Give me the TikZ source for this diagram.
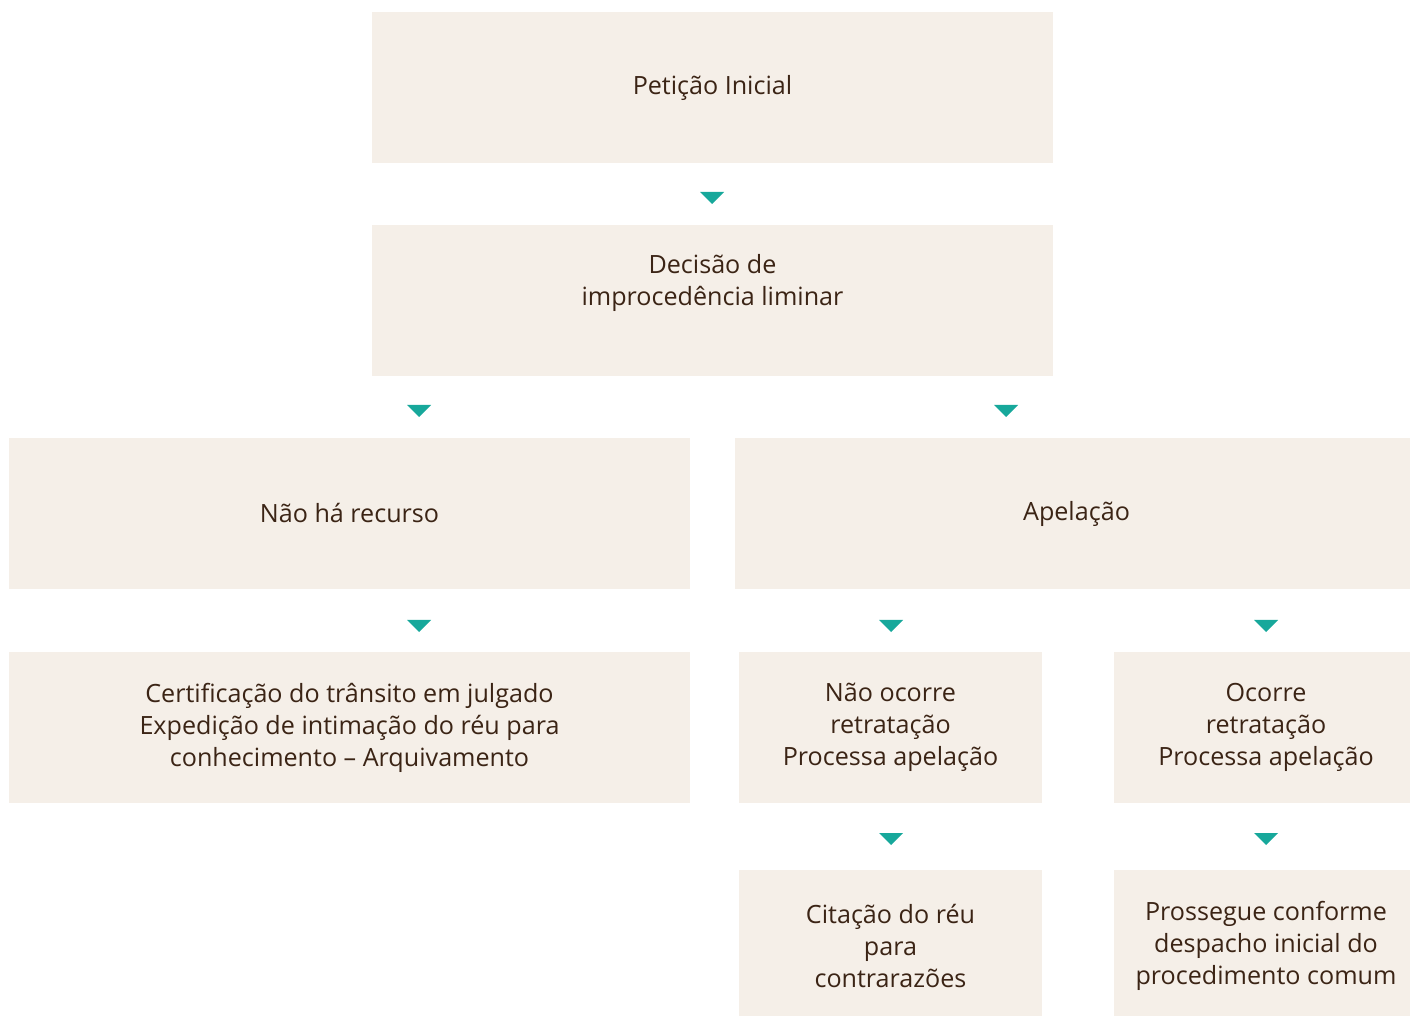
\documentclass[tikz,border=0pt]{standalone}
\usepackage{fontspec}
\setmainfont{Open Sans}
\usepackage{tikz}
\usetikzlibrary{positioning, calc}
\definecolor{boxfill}{HTML}{F5EFE8}
\definecolor{boxtext}{HTML}{3B2415}
\definecolor{tipfill}{HTML}{17A89B}

\tikzset{
    stepbox/.style={fill=boxfill, text=boxtext, align=center, inner sep=0pt,
        font=\fontsize{14.3}{18.2}\selectfont},
    tip/.style={fill=tipfill}
}

\begin{document}
\begin{tikzpicture}[x=0.02cm,y=-0.02cm]
    \useasboundingbox (0,0) rectangle (1410,1016);

    % boxes
    \node[stepbox, minimum width=681*0.02cm, minimum height=151*0.02cm] (P) at (712.5,87.5) {Petição Inicial};
    \node[stepbox, minimum width=681*0.02cm, minimum height=151*0.02cm] (D) at (712.5,300.5) {Decisão de\\improcedência liminar\\ \strut};
    \node[stepbox, minimum width=681*0.02cm, minimum height=151*0.02cm] (N) at (349.5,513.5) {Não há recurso};
    \node[stepbox, minimum width=683*0.02cm, minimum height=151*0.02cm] (A) at (1076.5,513.5) {Apelação};
    \node[stepbox, minimum width=681*0.02cm, minimum height=151*0.02cm] (C) at (349.5,727.5) {Certificação do trânsito em julgado\\Expedição de intimação do réu para\\conhecimento -- Arquivamento};
    \node[stepbox, minimum width=303*0.02cm, minimum height=151*0.02cm] (NR) at (890.5,727.5) {Não ocorre\\retratação\\Processa apelação};
    \node[stepbox, minimum width=304*0.02cm, minimum height=151*0.02cm] (R) at (1266,727.5) {Ocorre\\retratação\\Processa apelação};
    \node[stepbox, minimum width=303*0.02cm, minimum height=152*0.02cm] (CR) at (890.5,946) {Citação do réu\\para\\contrarazões};
    \node[stepbox, minimum width=304*0.02cm, minimum height=152*0.02cm] (PC) at (1266,946) {Prossegue conforme\\despacho inicial do\\procedimento comum};

    % arrow tips
    \foreach \x/\y in {712/198, 419/411, 1006/411, 419/626, 891/626, 1266/626, 891/839, 1266/839}
        \fill[tip] (\x-12,\y-6) -- (\x+12,\y-6) -- (\x,\y+6) -- cycle;
\end{tikzpicture}
\end{document}
